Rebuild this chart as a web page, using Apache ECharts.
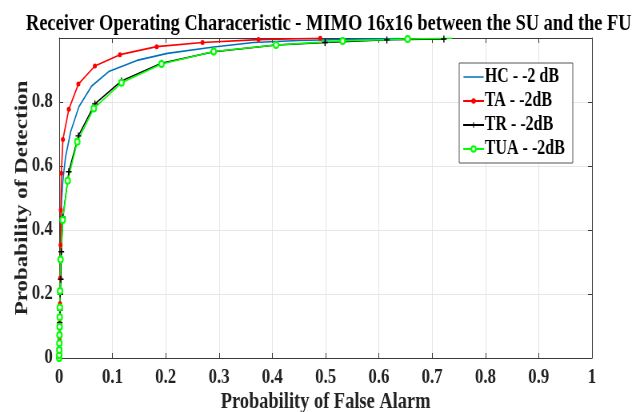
<!DOCTYPE html>
<html>
<head>
<meta charset="utf-8">
<script src="https://cdn.jsdelivr.net/npm/echarts@6/dist/echarts.min.js"></script>
<style>
  html, body { margin: 0; padding: 0; background: #fff; overflow: hidden; }
  /* the figure is laid out wide and squeezed horizontally */
  #chart { width: 805px; height: 412px; transform: scaleX(0.8); transform-origin: 0 0; }
</style>
</head>
<body>
<div id="chart"></div>
<script>
// Axis tick values
const xTicks = [0, 0.1, 0.2, 0.3, 0.4, 0.5, 0.6, 0.7, 0.8, 0.9, 1];
const yTicks = [0, 0.2, 0.4, 0.6, 0.8];

// HC - -2 dB
const hcPfa = [0, 0.001, 0.002, 0.003, 0.0045, 0.007, 0.012, 0.0215, 0.037, 0.061, 0.093, 0.146, 0.203, 0.29, 0.365, 0.45, 0.55, 0.64];
const hcPd  = [0, 0.1, 0.22, 0.36, 0.494, 0.556, 0.629, 0.707, 0.785, 0.85, 0.895, 0.93, 0.952, 0.972, 0.986, 0.992, 0.996, 0.998];

// TA - -2dB
const taPfa = [0, 0.0003, 0.0006, 0.001, 0.0015, 0.002, 0.0025, 0.003, 0.004, 0.007, 0.018, 0.036, 0.067, 0.114, 0.183, 0.269, 0.374, 0.49];
const taPd  = [0, 0.02, 0.06, 0.11, 0.17, 0.25, 0.353, 0.4625, 0.577, 0.683, 0.777, 0.856, 0.9125, 0.948, 0.973, 0.986, 0.995, 0.999];

// TR - -2dB
const trPfa = [0, 0.0003, 0.0006, 0.001, 0.0015, 0.002, 0.003, 0.004, 0.007, 0.018, 0.036, 0.067, 0.117, 0.192, 0.29, 0.407, 0.499, 0.615, 0.722];
const trPd  = [0, 0.03, 0.07, 0.11, 0.15, 0.2, 0.246, 0.332, 0.44, 0.582, 0.694, 0.794, 0.866, 0.921, 0.957, 0.978, 0.986, 0.994, 0.997];

// TUA - -2dB
const tuaPfa = [0, 0.0001, 0.0002, 0.0004, 0.0006, 0.0008, 0.001, 0.0012, 0.0016, 0.0025, 0.0066, 0.016, 0.034, 0.065, 0.117, 0.192, 0.29, 0.407, 0.532, 0.654, 0.738];
const tuaPd  = [0, 0.009, 0.025, 0.046, 0.072, 0.098, 0.127, 0.158, 0.209, 0.308, 0.431, 0.554, 0.676, 0.78, 0.86, 0.919, 0.958, 0.978, 0.991, 0.997, 0.999];

// the TUA curve runs on past its last marker
const pairs = (xs, ys, bareLast) => xs.map((x, i) =>
  (bareLast && i === xs.length - 1) ? { value: [x, ys[i]], symbol: 'none' } : [x, ys[i]]);

const FONT = 'Liberation Serif';
const AXIS_COLOR = '#3a3a3a';
const PLUS = 'path://M4,0h2v4h4v2h-4v4h-2v-4h-4v-2h4z';
// plain line sample for the HC legend entry
const LINE_ICON = 'path://M0,0h0.01v0.01h-0.01z M0,2.9h26v1.4h-26z M25.99,7.19h0.01v0.01h-0.01z';

const chart = echarts.init(document.getElementById('chart'), null, { renderer: 'canvas' });

const xLabelSet = new Set(xTicks.map(v => v.toFixed(1)));
const yLabelSet = new Set(yTicks.map(v => v.toFixed(1)));

chart.setOption({
  animation: false,
  backgroundColor: '#fff',
  title: {
    text: 'Receiver Operating Characeristic - MIMO 16x16 between the SU and the FU',
    left: 406,
    textAlign: 'center',
    top: 8,
    textStyle: { fontFamily: FONT, fontWeight: 'bold', fontSize: 23, color: '#000' }
  },
  grid: { left: 74, right: 65, top: 38, bottom: 54, containLabel: false, outerBoundsMode: 'none' },
  legend: {
    orient: 'vertical',
    left: 574,
    top: 63,
    backgroundColor: '#fff',
    borderColor: '#555',
    borderWidth: 1,
    borderRadius: 0,
    padding: [4, 10, 4, 4],
    itemGap: 4,
    itemWidth: 26,
    itemHeight: 7,
    textStyle: { fontFamily: FONT, fontWeight: 'bold', fontSize: 20, color: '#000', padding: [0, 0, 0, -4] },
    data: [
      { name: 'HC - -2 dB', icon: LINE_ICON },
      { name: 'TA - -2dB' },
      { name: 'TR - -2dB' },
      { name: 'TUA - -2dB' }
    ]
  },
  xAxis: [{
    type: 'value', min: 0, max: 1, interval: 0.1,
    name: 'Probability of False Alarm', nameLocation: 'middle', nameGap: 33, nameMoveOverlap: false,
    nameTextStyle: { fontFamily: FONT, fontWeight: 'bold', fontSize: 23, color: '#222' },
    axisLine: { show: true, onZero: false, lineStyle: { color: AXIS_COLOR, width: 1 } },
    axisTick: { show: true, inside: true, length: 5, lineStyle: { color: AXIS_COLOR } },
    axisLabel: {
      margin: 9, fontFamily: FONT, fontWeight: 'bold', fontSize: 21, color: '#222',
      formatter: v => { const s = (+v.toFixed(1)).toFixed(1); return xLabelSet.has(s) ? String(+s) : ''; }
    },
    splitLine: { show: true, lineStyle: { color: '#e6e6e6', width: 1 } }
  }, {
    type: 'value', min: 0, max: 1, interval: 0.1, position: 'top',
    axisLine: { show: true, onZero: false, lineStyle: { color: AXIS_COLOR, width: 1 } },
    axisTick: { show: true, inside: true, length: 5, lineStyle: { color: AXIS_COLOR } },
    axisLabel: { show: false },
    splitLine: { show: false }
  }],
  yAxis: [{
    type: 'value', min: 0, max: 1, interval: 0.2,
    name: 'Probability of Detection', nameLocation: 'middle', nameGap: 34, nameRotate: 90, nameMoveOverlap: false,
    nameTextStyle: { fontFamily: FONT, fontWeight: 'bold', fontSize: 23, color: '#222' },
    axisLine: { show: true, onZero: false, lineStyle: { color: AXIS_COLOR, width: 1 } },
    axisTick: { show: true, inside: true, length: 5, lineStyle: { color: AXIS_COLOR } },
    axisLabel: {
      margin: 8, fontFamily: FONT, fontWeight: 'bold', fontSize: 21, color: '#222',
      formatter: v => { const s = (+v.toFixed(1)).toFixed(1); return yLabelSet.has(s) ? String(+s) : ''; }
    },
    splitLine: { show: true, lineStyle: { color: '#e6e6e6', width: 1 } }
  }, {
    type: 'value', min: 0, max: 1, interval: 0.2, position: 'right',
    axisLine: { show: true, onZero: false, lineStyle: { color: AXIS_COLOR, width: 1 } },
    axisTick: { show: true, inside: true, length: 5, lineStyle: { color: AXIS_COLOR } },
    axisLabel: { show: false },
    splitLine: { show: false }
  }],
  series: [
    {
      name: 'HC - -2 dB', type: 'line', xAxisIndex: 0, yAxisIndex: 0,
      data: pairs(hcPfa, hcPd), symbol: 'none', smooth: false,
      lineStyle: { color: '#0072BD', width: 1.6 }, itemStyle: { color: '#0072BD' }
    },
    {
      name: 'TA - -2dB', type: 'line', xAxisIndex: 0, yAxisIndex: 0,
      data: pairs(taPfa, taPd), symbol: 'circle', symbolSize: 5,
      lineStyle: { color: '#ff0000', width: 1.6 }, itemStyle: { color: '#ff0000' }
    },
    {
      name: 'TR - -2dB', type: 'line', xAxisIndex: 0, yAxisIndex: 0,
      data: pairs(trPfa, trPd), symbol: PLUS, symbolSize: 7,
      lineStyle: { color: '#000', width: 1.4 }, itemStyle: { color: '#000' }
    },
    {
      name: 'TUA - -2dB', type: 'line', xAxisIndex: 0, yAxisIndex: 0,
      data: pairs(tuaPfa, tuaPd, true), symbol: 'emptyCircle', symbolSize: 6,
      lineStyle: { color: '#00ff00', width: 1.6 },
      itemStyle: { color: '#00ff00', borderColor: '#00ff00', borderWidth: 1.6 }
    }
  ]
});
</script>
</body>
</html>
